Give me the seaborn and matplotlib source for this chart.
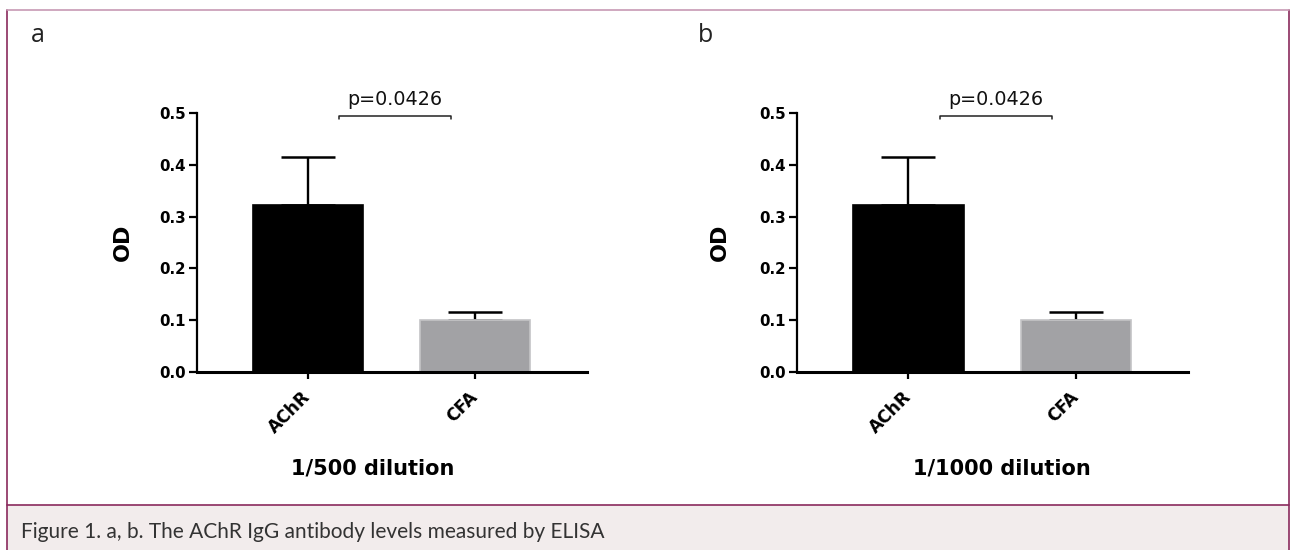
import pandas as pd
import numpy as np
import matplotlib
matplotlib.use('Agg')
import matplotlib.pyplot as plt
from matplotlib.patches import Rectangle
from matplotlib.lines import Line2D
import seaborn as sns

# values
groups = ['AChR', 'CFA']
od_500 = [0.322, 0.100]
err_500 = [0.093, 0.015]
od_1000 = [0.322, 0.100]
err_1000 = [0.093, 0.015]
p_text = 'p=0.0426'
yticks = [0.0, 0.1, 0.2, 0.3, 0.4, 0.5]
bar_colors = ['#000000', '#a2a1a6']
bar_edges = ['#000000', '#c4c4c6']

sns.set_theme(style='white')
plt.rcParams['font.family'] = ['DejaVu Sans']
plt.rcParams['text.color'] = 'black'
plt.rcParams['axes.labelcolor'] = 'black'
plt.rcParams['xtick.color'] = 'black'
plt.rcParams['ytick.color'] = 'black'

fig = plt.figure(figsize=(12.93, 5.5), dpi=100)
W, H = 1293, 550

# frame, caption band
fig.add_artist(Rectangle((7/W, 0), (1289-7)/W, 45/H, transform=fig.transFigure,
                         facecolor='#f2ecec', edgecolor='none', zorder=0))
fig.add_artist(Line2D([7/W, 7/W], [0, 1-10/H], transform=fig.transFigure, color='#8a2a5c', lw=1.2))
fig.add_artist(Line2D([1289/W, 1289/W], [0, 1-10/H], transform=fig.transFigure, color='#8a2a5c', lw=1.2))
fig.add_artist(Line2D([7/W, 1289/W], [1-10/H, 1-10/H], transform=fig.transFigure, color='#c79ab4', lw=1.2))
fig.add_artist(Line2D([7/W, 1289/W], [45/H, 45/H], transform=fig.transFigure, color='#8a2a5c', lw=1.2))
fig.text(21/W, 11.5/H, 'Figure 1. a, b. The AChR IgG antibody levels measured by ELISA',
         fontsize=15, color='#333333', family=['Lato', 'DejaVu Sans'], ha='left', va='baseline')

panels = [
    ('a', od_500, err_500, '1/500 dilution', 197, 587, 38, 0.451, -0.164),
    ('b', od_1000, err_1000, '1/1000 dilution', 797, 1188, 706, 0.524, -0.171),
]

for letter, od, err, xlab, x0, x1, lx, xlab_x, ylab_x in panels:
    ax = fig.add_axes([x0/W, 1-372/H, (x1-x0)/W, (372-113)/H])
    df = pd.DataFrame({'group': groups, 'od': od})
    sns.barplot(data=df, x='group', y='od', hue='group', palette=bar_colors,
                width=0.66, errorbar=None, legend=False, ax=ax, zorder=2)
    for patch, ec in zip(ax.patches, bar_edges):
        patch.set_edgecolor(ec)
        patch.set_linewidth(1.2)
    ax.errorbar(np.arange(len(groups)), od, yerr=[np.zeros(len(err)), err], fmt='none',
                ecolor='black', elinewidth=1.7, capsize=19.5, capthick=1.8, zorder=1)

    ax.set_xlim(-0.665, 1.67)
    ax.set_ylim(0, 0.5)
    ax.set_yticks(yticks)
    ax.set_yticklabels([f'{v:.1f}' for v in yticks], fontsize=10.8, fontweight='bold')
    ax.set_xticks(range(len(groups)))
    ax.set_xticklabels(groups, fontsize=12.3, fontweight='bold', rotation=45,
                       ha='right', va='center', rotation_mode='anchor')
    ax.tick_params(axis='y', direction='out', length=6, width=1.6, pad=2, left=True)
    ax.tick_params(axis='x', direction='out', length=5, width=1.6, pad=11, bottom=True)
    for side in ['top', 'right']:
        ax.spines[side].set_visible(False)
    ax.spines['left'].set_linewidth(1.6)
    ax.spines['bottom'].set_linewidth(2.2)
    for side in ['left', 'bottom']:
        ax.spines[side].set_color('black')

    ax.set_ylabel('OD', fontsize=16, fontweight='bold')
    ax.yaxis.set_label_coords(ylab_x, 0.5)
    ax.set_xlabel(xlab, fontsize=15, fontweight='bold')
    ax.xaxis.set_label_coords(xlab_x, -0.335)

    # significance bracket between the two groups
    bx0, bx1 = 0 + 0.186, 1 - 0.145
    ax.plot([bx0, bx0, bx1, bx1], [0.488, 0.4946, 0.4946, 0.488], color='#222222',
            lw=1.1, clip_on=False)
    ax.text((bx0 + bx1) / 2, 0.516, p_text, ha='center', va='baseline', fontsize=13.8,
            color='#111111', clip_on=False)

    fig.text(lx/W, 1-42/H, letter, fontsize=18, color='#222222',
             family=['Open Sans', 'DejaVu Sans'], ha='center', va='baseline')

fig.savefig('out.png', dpi=100)
